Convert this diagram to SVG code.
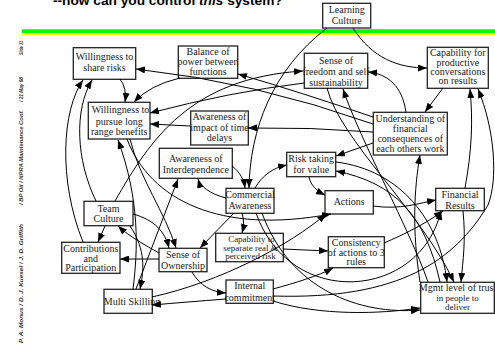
<svg xmlns="http://www.w3.org/2000/svg" width="495" height="344" viewBox="0 0 495 344">
<style>
.n rect{fill:#fff;stroke:#222;stroke-width:1.3}
.n text{font-family:"Liberation Serif","Times New Roman",serif;font-size:10px;fill:#222;text-anchor:middle}
.n text.s{font-size:9px}
#edges path{fill:none;stroke:#000;stroke-width:1;marker-end:url(#ah)}
.side{font-family:"Liberation Sans",Arial,sans-serif;font-size:5.5px;font-weight:bold;font-style:italic;fill:#333}
</style>
<defs>
<marker id="ah" markerUnits="userSpaceOnUse" markerWidth="9" markerHeight="7" refX="9" refY="3.5" orient="auto">
<path d="M0,0 L9,3.5 L0,7 z" fill="#000"/>
</marker>
</defs>
<rect width="495" height="344" fill="#fff"/>
<text x="53" y="5" font-family="Liberation Sans, Arial, sans-serif" font-weight="bold" font-size="13.7" fill="#000">--how can you control <tspan font-style="italic">this</tspan> system?</text>
<rect x="22" y="29.3" width="473" height="4" fill="#00ff00"/>
<rect x="22" y="33.3" width="473" height="1.8" fill="#ffff00"/>
<text class="side" transform="translate(23,343) rotate(-90)" textLength="119" lengthAdjust="spacingAndGlyphs">P. A. Monus / D. J. Kuesel / J. D. Griffith</text>
<text class="side" transform="translate(23,205) rotate(-90)" textLength="95" lengthAdjust="spacingAndGlyphs">/ BP Oil / NPRA Maintenance Conf.</text>
<text class="side" transform="translate(23,102) rotate(-90)" textLength="25" lengthAdjust="spacingAndGlyphs">/ 21 May 98</text>
<text class="side" transform="translate(23,55) rotate(-90)" textLength="14" lengthAdjust="spacingAndGlyphs">Slide 31</text>

<g id="n-learning" class="n"><rect x="322.7" y="3.3" width="48" height="24.7"/><text x="346.7" y="13.3">Learning</text><text x="346.7" y="24">Culture</text></g>
<g id="n-share" class="n"><rect x="73.3" y="47.7" width="62.4" height="31.6"/><text x="104.5" y="60">Willingness to</text><text x="104.5" y="71">share risks</text></g>
<g id="n-balance" class="n"><rect x="178.3" y="46" width="59.4" height="32.3"/><text x="208" y="55">Balance of</text><text x="208" y="65">power between</text><text x="208" y="75">functions</text></g>
<g id="n-freedom" class="n"><rect x="304.3" y="53.3" width="63.4" height="35"/><text x="336" y="64.3">Sense of</text><text x="336" y="75">freedom and self</text><text x="336" y="86">sustainability</text></g>
<g id="n-capconv" class="n"><rect x="427.3" y="47.3" width="61" height="41"/><text x="457.8" y="56">Capability for</text><text x="457.8" y="65.6">productive</text><text x="457.8" y="75">conversations</text><text x="457.8" y="84.3">on results</text></g>
<g id="n-pursue" class="n"><rect x="88.3" y="102.3" width="61.7" height="36.7"/><text x="120.5" y="113.3">Willingness to</text><text x="119.2" y="125">pursue long</text><text x="119.2" y="135">range benefits</text></g>
<g id="n-time" class="n"><rect x="190.7" y="111" width="57.6" height="34"/><text x="219.5" y="119.5">Awareness of</text><text x="219.5" y="130.5">impact of time</text><text x="219.5" y="141">delays</text></g>
<g id="n-understand" class="n"><rect x="373.3" y="112.3" width="74" height="42.7"/><text x="410.3" y="121.8">Understanding of</text><text x="410.3" y="132">financial</text><text x="410.3" y="142.2">consequences of</text><text x="410.3" y="152.4">each others work</text></g>
<g id="n-interdep" class="n"><rect x="159.3" y="148.3" width="73" height="30"/><text x="195.8" y="161.6">Awareness of</text><text x="195.8" y="172.6">Interdependence</text></g>
<g id="n-risk" class="n"><rect x="286.7" y="152.3" width="49" height="24.4"/><text x="311.2" y="161.6">Risk taking</text><text x="311.2" y="173.3">for value</text></g>
<g id="n-commercial" class="n"><rect x="226" y="188.3" width="48" height="25"/><text x="250" y="198.3">Commercial</text><text x="250" y="209">Awareness</text></g>
<g id="n-actions" class="n"><rect x="325" y="190.7" width="48.3" height="23.3"/><text x="349.2" y="205">Actions</text></g>
<g id="n-financial" class="n"><rect x="435.7" y="188.3" width="48.6" height="22.4"/><text x="460" y="198.3">Financial</text><text x="460" y="209.3">Results</text></g>
<g id="n-team" class="n"><rect x="84" y="201.3" width="49" height="24.4"/><text x="108.5" y="211.6">Team</text><text x="108.5" y="222.3">Culture</text></g>
<g id="n-contrib" class="n"><rect x="61.7" y="242.3" width="58.3" height="31"/><text x="90.8" y="252.3">Contributions</text><text x="90.8" y="261.6">and</text><text x="90.8" y="271">Participation</text></g>
<g id="n-ownership" class="n"><rect x="159" y="248.3" width="48" height="23.4"/><text x="183" y="257.6">Sense of</text><text x="183" y="269">Ownership</text></g>
<g id="n-separate" class="n"><rect x="215.7" y="233.3" width="67.6" height="28.4"/><text class="s" x="251.5" y="242">Capability to</text><text class="s" x="250.5" y="250.6">separate real &amp;</text><text class="s" x="250.5" y="259">perceived risk</text></g>
<g id="n-internal" class="n"><rect x="226" y="280" width="47.3" height="23.3"/><text x="249.7" y="289">Internal</text><text x="249.7" y="300.6">commitment</text></g>
<g id="n-multi" class="n"><rect x="104" y="289.3" width="48.3" height="24"/><text x="132" y="305">Multi Skilling</text></g>
<g id="n-consistency" class="n"><rect x="328.3" y="236.7" width="56" height="31"/><text x="356.3" y="246">Consistency</text><text x="356.3" y="255.6">of actions to 3</text><text x="356.3" y="265">rules</text></g>
<g id="n-mgmt" class="n"><rect x="420.7" y="282.3" width="73.6" height="31"/><text x="457.5" y="291.4">Mgmt level of trust</text><text class="s" x="457.5" y="300.6">in people to</text><text class="s" x="457.5" y="309.8">deliver</text></g>

<g id="edges">
<path d="M373,124 Q255,82 136,69"/>
<path d="M373,117 Q300,92 238,74"/>
<path d="M180,78 Q150,85 134,102"/>
<path d="M120,79 Q127,88 125,102"/>
<path d="M304,83 Q230,92 150,113"/>
<path d="M190,126 L150,124"/>
<path d="M373,132 Q310,127 248,128"/>
<path d="M115,201 C150,140 190,78 303,71"/>
<path d="M83,242 C58,180 62,110 83,80"/>
<path d="M96,201 C76,160 74,110 92,80"/>
<path d="M327,28 C272,70 250,130 249,188"/>
<path d="M353,28 C372,58 398,68 427,68"/>
<path d="M406,112 C402,86 388,74 368,72"/>
<path d="M443,88 L425,112"/>
<path d="M465,188 C472,150 473,120 470,89"/>
<path d="M273,296 C400,300 455,260 488,205 C498,180 495,130 478,89"/>
<path d="M133,289 C138,250 140,200 118,140"/>
<path d="M130,226 C146,250 144,270 140,289"/>
<path d="M136,289 L178,179"/>
<path d="M226,198 C210,194 200,186 198,179"/>
<path d="M232,166 C240,172 244,180 245,188"/>
<path d="M255,188 C262,176 272,168 287,165"/>
<path d="M373,143 L336,156"/>
<path d="M309,177 C311,186 317,191 325,195"/>
<path d="M336,162 C400,170 440,220 447,282"/>
<path d="M440,282 C425,215 395,183 336,171"/>
<path d="M463,211 C466,240 463,260 461,282"/>
<path d="M428,282 C410,230 360,140 343,89"/>
<path d="M327,88 C340,140 420,210 454,282"/>
<path d="M420,282 C412,230 414,190 420,155"/>
<path d="M373,206 C400,210 420,203 436,200"/>
<path d="M384,243 C405,234 425,224 443,211"/>
<path d="M256,213 C290,310 420,300 441,211"/>
<path d="M262,213 C290,290 360,315 420,310"/>
<path d="M273,301 C320,316 380,314 420,308"/>
<path d="M273,289 C295,283 318,276 333,268"/>
<path d="M283,249 L328,251"/>
<path d="M242,213 C244,220 244,226 242,233"/>
<path d="M234,213 L200,248"/>
<path d="M133,214 C155,220 165,232 169,248"/>
<path d="M130,139 C140,180 165,212 176,248"/>
<path d="M159,253 C145,245 130,237 118,226"/>
<path d="M159,259 L120,259"/>
<path d="M105,226 L98,242"/>
<path d="M192,272 C200,286 212,292 226,293"/>
<path d="M226,299 C200,301 175,303 152,305"/>
<path d="M152,297 C220,282 290,245 326,214"/>
<path d="M127,139 C150,200 220,235 331,214"/>
</g>
</svg>
